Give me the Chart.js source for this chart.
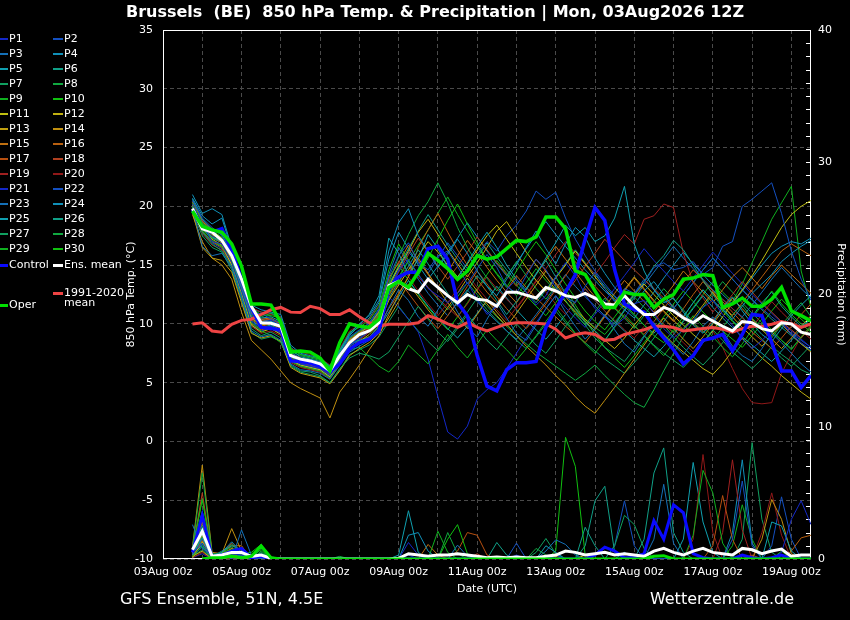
<!DOCTYPE html>
<html><head><meta charset="utf-8">
<script src="https://cdn.jsdelivr.net/npm/chart.js@4.4.0/dist/chart.umd.min.js"></script>
<style>
html,body{margin:0;padding:0;background:#000;}
#wrap{position:relative;width:850px;height:620px;background:#000;overflow:hidden;font-family:"DejaVu Sans",sans-serif;color:#fff;}
#c{position:absolute;left:0;top:0;}
.t{position:absolute;white-space:pre;}
.lg{position:absolute;}
</style></head><body>
<div id="wrap">
<canvas id="c" width="850" height="620"></canvas>
<div id="title" class="t" style="left:0;width:870px;top:2px;text-align:center;font-size:16px;line-height:20px;font-weight:bold;">Brussels  (BE)  850 hPa Temp. &amp; Precipitation | Mon, 03Aug2026 12Z</div>
<div class="t" style="left:120px;top:589px;font-size:16px;line-height:20px;">GFS Ensemble, 51N, 4.5E</div>
<div class="t" style="right:56px;top:589px;font-size:16px;line-height:20px;">Wetterzentrale.de</div>
<div id="legend"></div>
</div>
<script>
// ---- forecast steps (hours after 03Aug2026 00z) ----
const HOURS = [18,24,30,36,42,48,54,60,66,72,78,84,90,96,102,108,114,120,126,132,138,144,150,156,162,168,174,180,186,192,198,204,210,216,222,228,234,240,246,252,258,264,270,276,282,288,294,300,306,312,318,324,330,336,342,348,354,360,366,372,378,384,390,396];
const X_TICK_LABELS = ['03Aug 00z','05Aug 00z','07Aug 00z','09Aug 00z','11Aug 00z','13Aug 00z','15Aug 00z','17Aug 00z','19Aug 00z'];
const MEMBER_NAMES = ['P1','P2','P3','P4','P5','P6','P7','P8','P9','P10','P11','P12','P13','P14','P15','P16','P17','P18','P19','P20','P21','P22','P23','P24','P25','P26','P27','P28','P29','P30'];
const MEMBER_COLORS = ['#1428c8','#1450c0','#1470b8','#1090b8','#10a0b0','#10a088','#10a060','#10a840','#10b020','#10c010','#c0c010','#c0b010','#c0a010','#c09010','#c07010','#b86010','#b85010','#b04020','#a02020','#901818','#1428c8','#1450c0','#1470b8','#1090b8','#10a0b0','#10a088','#10a060','#10a840','#10b020','#10c010'];

// ---- 850 hPa temperature (°C), members ----
const T_P1 = [20.2,18.5,17.0,16.8,15.2,12.8,10.2,9.6,9.8,9.2,7.0,6.6,6.4,6.2,5.6,6.8,8.2,8.8,9.4,10.5,12.8,14.5,15.5,14.2,13.0,12.4,11.8,12.6,13.5,12.1,10.8,11.5,12.9,13.8,12.7,11.6,12.4,14.0,15.2,14.1,12.5,11.3,10.6,9.8,10.5,11.7,12.0,10.9,9.6,8.8,9.5,10.3,11.4,12.0,10.8,9.9,8.7,7.9,8.6,9.4,10.2,9.1,8.4,7.8];
const T_P2 = [20.5,19.0,18.2,17.5,15.9,13.2,10.8,10.9,10.4,10.1,7.6,7.0,6.9,6.7,6.1,7.4,8.9,9.5,10.0,11.2,14.0,15.8,16.9,15.2,14.6,15.8,16.2,14.9,13.4,14.7,15.9,14.8,13.2,12.6,14.1,15.5,14.6,13.1,12.3,11.8,13.2,14.4,13.0,11.9,13.0,12.6,13.5,14.8,15.2,14.6,14.8,15.3,14.2,14.8,16.6,17.0,20.0,20.6,21.3,22.0,19.4,16.2,13.8,12.0];
const T_P3 = [19.8,16.6,15.8,16.0,14.8,12.2,9.4,8.9,9.1,8.6,6.6,6.1,6.0,5.8,5.3,6.5,7.6,8.1,8.6,9.6,11.4,12.9,12.0,10.6,9.8,11.2,12.5,11.0,9.7,8.9,10.4,11.8,10.5,9.2,8.6,9.9,11.3,12.4,11.0,9.8,8.7,9.6,10.8,9.5,8.3,7.6,8.9,10.1,9.0,8.2,7.4,8.5,9.8,10.6,9.4,8.1,7.3,6.8,7.9,9.2,8.4,7.5,6.6,5.9];
const T_P4 = [21.0,19.4,19.8,19.3,16.5,13.9,11.6,11.2,11.0,10.8,8.2,7.5,7.3,7.1,6.4,7.8,9.2,10.0,10.7,12.0,16.2,18.6,19.8,17.5,16.2,14.8,15.9,17.2,16.0,14.5,13.2,12.4,13.8,15.0,16.5,17.9,16.4,15.1,16.8,18.2,17.4,15.6,14.3,13.1,12.2,11.6,12.8,13.6,12.5,11.4,10.6,11.8,12.9,12.0,11.2,10.4,11.5,12.6,13.4,14.2,15.3,16.0,16.6,17.1];
const T_P5 = [20.6,18.9,18.0,17.6,16.0,13.5,11.0,10.5,10.6,10.2,7.8,7.2,7.0,6.8,6.2,7.6,9.0,9.9,10.8,12.4,17.3,16.0,14.2,15.5,17.6,16.4,14.8,13.9,15.2,16.6,17.8,16.5,15.0,13.8,12.9,14.2,15.6,16.9,18.4,17.5,18.2,17.0,17.5,19.0,21.7,16.8,14.5,12.9,11.8,12.2,11.0,9.9,9.2,10.1,11.4,12.3,11.1,10.0,9.1,8.5,9.6,10.7,11.6,12.4];
const T_P6 = [19.9,18.2,17.4,17.0,15.6,13.0,10.6,10.0,10.2,9.8,7.2,6.8,6.6,6.3,5.8,7.0,8.4,8.6,8.8,9.9,12.2,13.6,14.9,16.3,15.1,13.8,12.6,11.5,12.8,14.1,13.2,12.0,10.8,11.9,13.0,14.3,15.4,14.0,12.6,11.3,10.1,9.4,8.6,9.8,11.2,12.5,13.6,14.9,15.8,17.1,16.3,15.0,13.7,12.5,11.4,10.3,9.5,10.6,11.8,12.7,11.5,10.6,9.8,10.4];
const T_P7 = [19.6,17.8,16.8,16.2,14.9,12.4,9.6,9.0,9.3,8.8,6.5,6.0,5.9,5.6,5.0,6.2,7.1,7.5,7.3,7.0,7.6,8.9,10.2,11.5,10.4,9.3,8.5,9.6,10.8,9.7,8.6,7.8,8.9,10.0,9.1,8.2,7.5,8.6,9.8,10.9,9.9,8.8,8.0,7.4,6.8,7.9,9.0,8.2,7.5,6.9,6.3,7.2,8.4,9.5,8.6,7.6,6.9,6.2,7.0,8.1,7.4,6.8,6.1,5.7];
const T_P8 = [20.0,18.0,17.3,17.2,15.9,13.6,11.2,10.6,10.9,10.4,7.7,7.3,7.1,6.9,6.3,7.5,8.8,9.4,9.8,10.9,13.5,15.7,17.6,19.2,20.4,22.0,20.3,18.2,16.5,15.1,13.9,12.8,14.0,15.3,14.1,13.0,12.1,13.2,12.0,10.8,9.9,11.0,12.2,11.3,10.5,9.6,10.7,11.9,13.0,12.1,11.2,10.1,9.4,8.6,9.7,10.8,11.6,10.5,9.6,8.8,9.9,10.9,11.8,10.6];
const T_P9 = [19.7,17.9,17.1,16.6,15.3,12.9,10.1,9.4,9.0,8.4,6.8,6.4,6.2,6.0,5.4,6.5,7.8,8.0,7.2,6.4,5.9,6.8,8.2,7.4,6.6,7.8,9.1,8.0,7.1,8.3,9.5,8.6,7.8,6.9,7.9,9.0,10.2,11.4,10.3,9.2,8.3,7.5,8.6,9.7,10.8,9.9,9.0,8.1,7.3,8.4,9.6,10.7,9.8,8.9,8.0,7.2,8.3,9.5,10.4,9.5,8.6,7.8,8.9,9.8];
const T_P10 = [20.3,18.6,17.9,17.4,16.1,13.8,11.3,10.8,10.7,10.5,7.9,7.4,7.2,7.0,6.4,7.7,9.3,9.7,10.3,11.5,14.6,16.8,15.4,14.1,15.6,17.2,18.8,20.2,18.5,16.9,15.4,14.2,13.1,14.5,15.8,17.0,15.9,14.6,13.4,12.2,11.1,10.2,9.5,10.6,11.7,10.8,9.9,9.0,8.4,9.5,10.6,11.8,12.9,12.0,11.1,10.2,9.4,10.5,11.6,12.8,11.7,10.8,10.0,9.3];
const T_P11 = [19.9,18.1,17.2,16.7,15.0,12.6,9.9,9.3,9.6,9.1,6.9,6.5,6.3,6.1,5.5,6.7,8.0,8.5,9.1,10.0,12.0,13.3,14.6,15.8,17.0,16.1,15.0,14.0,15.1,16.3,17.5,18.4,17.2,16.0,14.8,13.7,12.8,13.9,15.0,16.2,15.1,14.0,13.0,12.1,11.4,12.5,13.4,12.5,11.6,10.7,9.9,9.1,8.4,9.4,10.6,11.8,12.9,14.1,15.4,16.8,18.2,19.3,20.0,20.5];
const T_P12 = [20.1,18.4,17.6,17.1,15.5,13.1,10.5,9.9,10.1,9.7,7.3,6.9,6.7,6.4,5.9,7.1,8.6,9.2,9.8,11.0,13.2,14.8,16.2,17.8,18.9,17.6,16.3,15.1,14.0,15.2,16.5,17.9,18.7,17.4,16.1,15.0,14.0,12.9,11.9,11.0,10.2,9.4,8.6,7.9,8.8,9.9,10.9,10.0,9.1,8.3,7.6,6.9,6.2,5.7,6.6,7.7,8.8,7.9,7.1,6.4,5.6,4.9,4.2,3.6];
const T_P13 = [19.5,16.5,15.6,15.4,14.4,11.8,9.2,8.8,9.0,8.5,6.3,5.8,5.6,5.4,4.9,6.0,7.3,7.9,8.4,9.2,10.5,11.9,13.4,12.3,11.2,10.2,11.4,12.6,13.9,12.8,11.7,10.7,9.8,10.9,12.1,13.3,14.5,13.4,12.3,11.3,10.4,9.6,10.7,11.8,12.9,14.0,13.0,12.0,11.1,10.3,9.5,10.5,11.6,12.7,11.6,10.6,9.7,8.9,8.1,9.0,10.0,9.1,8.3,7.6];
const T_P14 = [19.3,17.0,15.6,15.0,13.8,11.0,8.6,7.8,7.0,6.0,5.0,4.5,4.1,3.7,2.0,4.2,5.3,6.5,7.8,9.0,10.8,12.5,14.0,15.6,14.3,13.0,11.8,10.7,9.6,10.8,12.0,11.0,10.0,9.0,8.1,7.3,6.5,5.6,4.8,3.8,3.0,2.4,3.5,4.6,5.8,7.0,8.2,9.4,10.5,9.6,8.7,7.9,8.9,10.0,11.1,12.2,11.3,10.4,9.5,8.7,7.9,8.8,9.8,10.7];
const T_P15 = [20.4,18.7,18.0,17.3,15.7,13.3,10.9,10.4,10.5,10.0,7.5,7.1,6.9,6.6,6.0,7.3,8.7,9.3,9.9,11.1,13.9,15.2,16.7,15.4,14.2,13.1,14.4,15.8,17.1,16.0,14.8,13.7,12.7,11.8,13.0,14.2,15.4,16.6,15.5,14.4,13.3,12.3,11.4,12.6,13.7,12.8,11.9,11.0,12.2,13.3,14.5,13.6,12.7,11.8,12.9,14.0,14.8,13.9,13.0,14.1,15.0,14.2,13.4,12.6];
const T_P16 = [19.8,17.9,17.0,16.5,15.1,12.7,10.0,9.5,9.7,9.3,6.9,6.4,6.2,6.0,5.4,6.6,7.9,8.4,8.9,9.8,11.3,12.6,14.0,16.5,18.0,19.4,17.8,16.3,15.0,13.8,12.7,11.8,12.9,14.1,13.1,12.2,11.4,10.6,9.8,9.1,8.4,9.5,10.6,11.7,12.8,13.9,12.9,11.9,11.0,10.2,11.3,12.5,13.6,12.6,11.6,10.7,11.8,12.9,14.0,15.1,16.2,16.8,16.3,15.8];
const T_P17 = [20.0,18.3,17.4,16.9,15.4,13.0,10.4,9.8,10.0,9.6,7.1,6.7,6.5,6.2,5.7,6.9,8.3,8.9,9.6,10.7,12.4,13.8,12.6,11.5,10.5,9.6,10.7,11.9,13.2,14.5,13.4,12.3,11.3,10.4,9.6,10.6,11.7,12.9,14.1,15.3,14.2,13.2,12.3,11.4,10.6,9.8,9.1,10.2,11.3,12.4,13.5,14.6,13.7,12.8,11.9,11.0,10.1,9.3,8.6,7.9,8.8,9.8,10.8,11.7];
const T_P18 = [20.2,18.6,17.8,17.3,15.8,13.4,10.9,10.3,10.4,10.0,7.4,6.9,6.8,6.5,5.9,7.1,8.5,9.1,9.7,10.8,12.9,14.4,15.9,17.3,16.1,14.9,13.8,14.9,16.1,17.4,16.3,15.2,14.2,13.2,14.3,15.5,14.5,13.5,12.6,13.7,14.9,16.0,17.2,16.3,15.4,14.6,13.8,13.0,12.2,11.4,10.7,10.0,9.3,10.3,11.4,12.5,13.6,12.7,11.8,11.0,10.2,9.5,8.8,9.7];
const T_P19 = [19.6,17.7,16.7,16.3,14.9,12.5,9.8,9.2,9.4,9.0,6.7,6.3,6.1,5.9,5.3,6.5,7.9,8.6,9.3,10.3,12.1,13.5,14.9,14.0,13.1,12.2,11.4,10.6,11.7,12.9,14.0,13.0,12.1,11.3,12.4,13.6,14.7,15.9,17.0,16.0,15.1,14.2,15.3,16.5,17.6,16.8,18.9,19.2,20.2,19.9,16.0,13.5,12.2,11.0,12.1,11.3,10.5,9.7,10.8,11.9,11.0,10.2,9.4,8.7];
const T_P20 = [20.3,18.8,18.1,17.6,16.2,13.7,11.4,11.0,10.8,10.6,7.9,7.6,7.4,7.1,6.5,7.9,9.4,9.9,10.4,11.6,13.7,15.3,14.0,12.8,11.7,10.7,11.8,13.0,14.2,13.1,12.1,11.2,10.3,11.4,12.5,13.7,12.7,11.7,10.8,11.9,13.0,12.0,11.1,10.3,9.5,8.8,9.8,10.9,10.0,9.2,8.4,7.6,8.5,9.4,8.0,6.2,4.5,3.3,3.2,3.3,5.8,7.4,8.9,9.9];
const T_P21 = [20.1,18.4,17.5,17.0,15.6,13.1,10.7,10.1,10.3,9.9,7.4,7.0,6.8,6.5,5.9,7.2,8.6,9.2,9.8,10.8,12.3,11.4,10.4,9.3,7.0,3.8,0.8,0.2,1.3,3.6,4.4,5.0,6.2,7.5,8.8,10.1,11.3,12.4,11.4,10.5,9.7,10.8,11.9,13.0,14.1,15.2,16.4,15.4,14.5,13.6,12.8,13.9,15.0,16.1,15.2,14.3,13.4,12.5,11.7,10.9,10.1,9.4,8.7,8.0];
const T_P22 = [19.7,17.8,16.9,16.4,15.0,12.5,9.9,9.4,9.6,9.2,6.9,6.5,6.3,6.1,5.5,6.7,8.1,8.7,9.3,10.4,13.0,14.6,16.1,15.2,14.3,15.6,16.9,15.8,14.7,15.9,17.0,16.2,17.5,18.4,19.6,21.3,20.6,21.2,19.0,17.2,15.8,14.5,13.4,12.4,11.5,12.6,13.8,12.9,12.0,11.3,12.4,13.5,14.6,15.6,14.7,13.8,12.9,12.1,11.3,10.6,9.9,9.2,8.6,8.0];
const T_P23 = [20.4,18.8,17.9,17.3,15.8,13.3,10.9,10.4,10.2,10.0,7.6,7.1,6.9,6.6,6.1,7.4,8.8,9.4,10.1,11.3,14.2,16.5,15.1,13.8,12.6,11.6,10.7,11.8,12.9,11.9,11.0,10.2,9.4,8.7,9.7,10.8,11.9,13.0,14.2,13.2,12.3,11.5,10.7,10.0,11.1,12.2,13.3,14.4,15.5,16.6,15.6,14.7,13.8,12.9,12.1,11.3,10.6,11.6,12.7,13.8,14.8,13.9,13.0,12.2];
const T_P24 = [20.7,19.2,18.5,19.0,16.3,13.7,11.3,11.0,10.9,10.6,8.0,7.4,7.2,7.0,6.3,7.7,9.1,9.8,10.5,11.8,15.5,17.8,16.4,15.0,13.8,14.9,16.1,17.3,18.6,17.4,16.2,15.1,14.1,15.2,16.4,17.6,18.7,17.6,16.6,15.6,14.6,13.7,12.8,12.0,11.2,10.5,11.6,12.7,13.9,15.0,16.1,15.1,14.2,13.3,12.5,11.7,12.8,13.9,15.0,16.0,16.6,17.0,16.8,17.3];
const T_P25 = [19.9,18.1,17.3,16.9,15.4,12.9,10.3,9.7,9.9,9.5,7.0,6.6,6.4,6.2,5.6,6.8,8.2,8.6,8.9,9.7,11.0,12.3,13.7,12.6,11.5,10.5,9.6,8.8,9.8,10.9,12.0,13.2,12.2,11.2,10.3,9.5,8.7,9.7,10.8,11.9,13.0,12.0,11.1,10.2,9.4,8.6,7.9,7.2,8.1,9.1,10.2,11.3,12.4,11.4,10.5,9.7,8.9,8.2,7.5,6.8,7.7,8.6,9.6,10.5];
const T_P26 = [20.2,18.5,17.7,17.2,15.7,13.2,10.7,10.2,10.4,10.1,7.5,7.0,6.8,6.6,6.0,7.2,8.6,9.2,9.9,11.0,13.4,14.9,16.4,17.9,19.3,18.0,16.7,15.5,14.4,15.6,16.9,15.7,14.6,13.6,12.7,11.8,12.9,14.0,15.1,16.3,15.2,14.2,13.2,12.3,11.5,10.7,9.9,9.2,10.2,11.3,12.4,13.5,14.6,15.6,14.7,13.8,12.9,12.0,11.2,10.4,9.7,9.0,8.3,7.7];
const T_P27 = [19.5,17.5,16.5,16.1,14.6,12.0,9.3,8.7,8.9,8.5,6.4,5.9,5.7,5.5,5.0,6.1,7.4,7.8,8.2,8.9,10.2,11.5,10.4,9.4,8.5,7.7,8.7,9.8,11.0,12.2,11.2,10.3,9.4,8.6,7.9,8.9,10.0,11.1,10.1,9.2,8.4,7.7,7.0,6.4,5.8,6.7,7.7,8.8,9.9,8.9,8.0,7.2,6.5,7.4,8.4,9.5,10.6,9.6,8.7,7.9,7.1,6.4,7.3,8.2];
const T_P28 = [20.0,18.2,17.4,16.9,15.5,13.0,10.5,9.9,10.1,9.7,7.2,6.7,6.5,6.3,5.7,7.0,8.4,9.0,9.6,10.6,12.6,14.0,15.4,14.2,13.1,12.1,11.2,12.3,13.5,12.5,11.5,10.6,9.8,9.0,8.3,7.6,7.0,6.4,5.8,5.2,5.8,6.5,5.6,4.8,4.0,3.3,2.9,4.4,6.0,7.5,8.9,10.2,11.4,12.5,13.6,12.7,11.8,10.9,10.1,9.3,8.6,7.9,8.8,9.7];
const T_P29 = [19.8,17.9,17.0,16.6,15.2,12.7,10.1,9.6,9.8,9.4,7.0,6.5,6.3,6.1,5.5,6.8,8.2,8.8,9.4,10.4,12.5,13.9,15.3,16.7,18.0,19.4,20.8,19.3,17.9,16.6,15.4,14.3,13.3,12.4,13.5,14.7,13.7,12.8,11.9,11.1,10.4,9.7,9.1,10.1,11.2,12.3,11.4,10.6,9.9,9.3,10.3,11.4,12.5,13.6,12.7,11.9,13.4,15.2,17.0,18.9,20.3,21.7,14.5,11.4];
const T_P30 = [20.1,18.4,17.6,17.1,15.6,13.2,10.8,10.2,10.4,9.9,7.4,7.0,6.8,6.5,5.9,7.2,8.6,9.2,9.8,10.9,13.1,15.0,13.7,12.5,11.4,10.4,9.5,10.6,11.8,13.0,14.2,15.4,14.3,13.3,12.4,11.5,10.7,11.8,13.0,11.6,10.3,9.1,8.0,7.1,6.3,7.3,8.4,9.5,10.6,11.7,12.8,11.9,11.0,10.2,9.4,8.7,8.0,9.0,10.0,11.1,12.1,11.2,10.4,9.7];

// ---- 850 hPa temperature (°C), highlighted series ----
const T_CONTROL = [19.7,18.3,17.8,18.1,16.3,13.8,11.4,9.7,9.6,9.5,6.85,6.8,6.65,6.4,5.9,6.6,7.85,8.4,8.7,9.4,13.0,14.0,14.4,14.4,16.4,16.6,15.5,11.8,10.7,7.3,4.7,4.3,6.1,6.7,6.7,6.8,9.7,11.25,12.7,14.2,17.2,19.9,18.8,14.6,11.7,11.2,11.0,9.8,8.8,7.8,6.6,7.3,8.6,8.8,9.1,7.7,9.1,10.8,10.7,8.4,6.0,6.0,4.6,5.6];
const T_MEAN = [19.8,18.1,17.8,17.1,15.8,13.8,11.5,10.1,10.05,9.8,7.3,7.0,6.85,6.6,6.0,7.3,8.4,9.1,9.4,10.1,13.25,13.6,13.0,12.7,13.8,13.1,12.4,11.8,12.5,12.1,12.0,11.5,12.7,12.7,12.45,12.2,13.1,12.8,12.4,12.25,12.6,12.2,11.7,11.6,12.4,11.5,10.8,10.8,11.4,11.1,10.5,10.1,10.7,10.25,9.8,9.4,10.2,10.1,9.6,9.4,10.1,10.0,9.3,9.1];
const T_OPER = [19.6,18.3,18.0,17.8,16.8,14.9,11.7,11.7,11.6,10.1,7.6,7.7,7.6,7.1,6.0,8.4,10.0,9.8,9.7,10.4,13.1,13.6,13.1,14.4,16.0,15.4,14.7,13.8,14.5,15.8,15.5,15.7,16.4,17.1,17.0,17.4,19.1,19.1,18.1,14.5,14.2,12.8,11.4,11.4,12.7,12.5,12.5,11.4,12.1,12.5,13.8,13.9,14.2,14.1,11.4,11.7,12.2,11.5,11.5,12.1,13.1,11.1,10.7,10.25];
const T_CLIMATE = [10.0,10.1,9.4,9.3,9.97,10.3,10.4,10.8,11.2,11.4,11.0,10.96,11.5,11.3,10.8,10.8,11.2,10.6,10.1,9.8,9.97,9.97,9.97,10.1,10.7,10.4,10.0,9.7,10.1,9.7,9.4,9.7,10.0,10.1,10.1,10.05,10.0,9.55,8.8,9.1,9.25,9.1,8.6,8.7,9.1,9.3,9.5,9.8,9.8,9.7,9.4,9.5,9.6,9.7,9.55,9.3,9.6,9.8,9.8,9.97,10.2,10.0,9.7,10.0];

// ---- precipitation (mm per 6 h), members ----
const R_P1 = [0.4,1.2,0.1,0.3,0.4,0.3,0,0.2,0,0,0,0,0,0,0,0,0,0,0,0,0,0,1.25,0.3,0,0,0,0,0,0,0,0,0,0,0,0,0,0.3,0,0,0,0,0,0,0,0,0,0,0,0,0,0,0,0,0,0,0,0,0,0,0.5,3.0,4.4,2.6];
const R_P2 = [0.6,2.2,0,0.4,0.5,0.6,0,0.1,0,0,0,0,0,0,0,0,0,0,0,0,0,0,0,0,0,0,0,0,0,0,0,0,0,1.2,0,0,0,0,0,0,0,0,0,0,0,0,0,0,0,0,0,0,0,0,0,1.5,5.9,1.0,0,0,0,0,0,0];
const R_P3 = [2.6,0.8,0.3,0.4,0,2.2,0.3,0,0,0,0,0,0,0,0,0,0,0,0,0,0,0,0,0,0,0,0,1.05,0.2,0,0,0,0,0,0,0,0,0,0,0,0,0,0,0,0,0,0,1.5,5.65,1.2,0,0,0,0,0,0,0,0,0,0,0,0,0,0];
const R_P4 = [0.3,1.6,0,0.5,1.3,0.5,0,0,0,0,0,0,0,0,0,0,0,0,0,0,0,0,1.8,2.0,0.6,0,0,0,0,0,0,0,0,0,0,0,0,0,0,0,0,0,0,0,0.5,0,0,0,0,0,0,0,0,0,0,0,0,0,0,0,0,0,0,0];
const R_P5 = [0.5,2.4,0,0.3,0.6,0.4,0,0,0,0,0,0,0,0,0,0,0,0,0,0,0,0.3,3.65,0.5,0,0,0,0,0,0,0,0,0,0,0,0,0,0,0,0,0,0,0,0,0,0,0,0,0,0,0,0,0,0,0,0,0,0,0,2.8,2.5,0.6,0,0];
const R_P6 = [0.7,3.6,0.2,0.6,1.0,0.7,0,0.3,0,0,0,0,0,0,0,0,0,0,0,0,0,0,0,0,0,0,0,0,0,0,0,0,0,0,0,0,0,0,0,0,2.4,1.0,0,0,0,0,1.5,6.5,8.4,2.0,0.5,0,0,0,0,0,0,0,0,0,0,0,0,0];
const R_P7 = [0.3,1.9,0,0.2,0.4,0.3,0,0.5,0,0,0,0,0,0,0,0,0,0,0,0,0,0,0,0,0,0,0,0,0,0,0,0,0,0,0,0,0,0,0,0,0,0,0,1.0,3.3,2.6,0.8,0,0,0,0,0,0,0,0,0,0,0,0,0,0,0,0,0];
const R_P8 = [0.8,6.5,0.4,0.4,1.1,0.5,0,0.8,0,0,0,0,0,0,0,0.2,0,0,0,0,0,0,0,0,0,0,0,0,0,0,0,0,0,0,0,0.8,0.3,0,0,0,0,0,0,0,0,0,0,0,0,0,0,0,0,0,0,0,0,0,0,0,0,0,0,0];
const R_P9 = [0.2,1.0,0,0.3,0.3,0,0,1.0,0,0,0,0,0,0,0,0,0,0,0,0,0,0,0,0,0,2.1,0.5,0,0,0,0,0,0,0,0,0,0,0,0,0,0,0,0,0,0,0,0,0,0,0,0,1.8,6.7,5.0,1.2,0,0,0,0,0,0,0,0,0];
const R_P10 = [0.6,4.5,0.2,0.5,0.7,0.4,0.5,1.1,0,0,0,0,0,0,0,0,0,0,0,0,0,0,0,0,0,0,1.5,2.6,0.4,0,0,0,0,0,0,0,0,0,0,0,0,0,0,0,0,0,0,0,0,0,0,0,0,0,0,0,0,0,0,0,0,0,0,0];
const R_P11 = [0.1,1.3,0,0.2,0.3,0.1,0,0,0,0,0,0,0,0,0,0,0,0,0,0,0,0,0,0,0,0,0,0,0,0,0,0,0,0,0,0,0,0,0,0,0.3,0,0,0,0,0,0,0,0,0,0,0,0,0,0,0,0,0,0,0,0,0,0,0];
const R_P12 = [0.2,0.6,0,0.1,0.2,0,0,0,0,0,0,0,0,0,0,0,0,0,0,0,0,0,0,0,0,0,0,0,0,0,0,0,0,0,0,0,0,0,0,0,0,0,0,0,0,0,0,0,0,0,0,0,0,0,0,0,0,0,0,0,0,0,0,0];
const R_P13 = [0.4,1.8,0,0.3,0.8,0.3,0,0,0,0,0,0,0,0,0,0,0,0,0,0,0,0,0,0,0,0,0,0,0,0,0,0,0,0,0,0,0,0.2,0,0,0,0,0,0,0,0,0,0,0,0,0,0,0,0,0,0,0,0,0,0,0,0,0,0];
const R_P14 = [0.9,7.1,0.5,0.4,2.3,0.6,0,0,0,0,0,0,0,0,0,0,0,0,0,0,0,0,0,0,0,0,0,0,0,0,0,0,0,0,0,0,0,0,0,0,0,0,0,0,0,0,0,0,0,0,0,0,0,0,0,0,0,0,1.5,4.5,3.0,0.4,0,0];
const R_P15 = [0.5,2.8,0,0.5,1.0,1.0,0,0,0,0,0,0,0,0,0,0,0,0,0,0,0,0,0,0,1.1,0.3,0,0,0,0,0,0,0,0,0,0,0,0,0,0,0,0,0,0,0,0,0,0,0,0,0,0,0,0,0,0,0,0,0,0,0,0,0,0];
const R_P16 = [0.2,1.4,0,0.3,0.5,0,0,0,0,0,0,0,0,0,0,0,0,0,0,0,0,0,0,0,0,0,0,0,0,0,0,0,0,0,0,0,0,0,0,0,0,0,0,0,0,0,0,0,0,0,0,0,0,0,0,0,0,0,0,0,0,0.6,1.6,1.8];
const R_P17 = [0.3,3.0,0,0.4,0.8,0.4,0,0,0,0,0,0,0,0,0,0,0,0,0,0,0,0,0,0,0,0,0,0.6,2.0,1.8,0.3,0,0,0,0,0,0,0,0,0,0,0,0,0,0,0,0,0,0,0,0,0,0,1.0,4.8,1.5,0,0,0,0,0,0,0,0];
const R_P18 = [0.6,5.0,0.3,0.4,1.2,0.3,0,0,0,0,0,0,0,0,0,0,0,0,0,0,0,0,0,0,0,0,0,0,0,0.4,0,0,0,0,0,0,0,0,0,0,0,0,0,0,0,0,0,0,0,0,0,0,0,0,0,0,0,0.3,0,0,0,0,0,0];
const R_P19 = [0.1,0.5,0,0.1,0,0,0,0,0,0,0,0,0,0,0,0,0,0,0,0,0,0,0,0,0,0,0,0,0,0,0,0,0,0,0,0,0,0,0,0,0,0,0,0,0,0,0,0,0,0,0,0,0,0,2.0,7.5,2.2,0,0,0,0,0,0,0];
const R_P20 = [0.4,2.0,0,0.3,0.4,0,0,0,0,0,0,0,0,0,0,0,0,0,0,0,0,0,0,0,0,0,0,0,0,0,0,0,0,0,0,0,0,0,0,0,0,0,0,0,0,0,0,0,0,0,0,1.5,7.9,2.0,0,0,0,0,2.0,5.0,1.8,0,0,0];
const R_P21 = [0.1,0.4,0,0.2,0,0,0,0,0,0,0,0,0,0,0,0,0,0,0,0,0,0,0.3,0,0,0,0,0,0,0,0,0,0,0.3,0,0,0,0,0,0,0,0,0,0,0,0,0,0,0,0,0,0,0,0,0,0,0,0,0,0,0,0,0,0];
const R_P22 = [0.3,1.5,0,0.3,0.4,0.5,0,0,0,0,0,0,0,0,0,0,0,0,0,0,0,0,0,0,0,0,0,0,0,0,0,0,0,0,0,0,0,0,0,0,0,0,0,1.0,4.4,1.0,0,0,0,0,0,0,0,0,0,0,0,0,0,1.0,4.7,1.5,0,0];
const R_P23 = [0.2,0.9,0,0.2,0,0.4,0,0,0,0,0,0,0,0,0,0,0,0,0,0,0,0,0,0,0,0,0,0,0,0,0,0,0,0,0,0,0.6,1.45,1.1,0.3,0,0,0,0,0,0,0,0,0,0,0,0,0,0,0,0,0,0,0,0,0,0,0,0];
const R_P24 = [0.4,2.1,0,0.3,0.5,0.2,0,0,0,0,0,0,0,0,0,0,0,0,0,0,0,0,0,0,0,0,0,0,0,0,0,0,0,0,0,0,0,0,0,0,0,0,0,0,0,0,0,0,0,0,0,0,0,0,0,2.0,7.5,1.2,0,0,0,0,0,0];
const R_P25 = [0.3,1.1,0,0.2,0.3,0.2,0,0,0,0,0,0,0,0,0,0,0,0,0,0,0,0,0,0,0,0,0,0,0,0,0,0,0,0,0,0,1.0,0.5,0,0,0,0,0,0,0,0,0,0,0,0,1.5,7.3,2.8,0.5,0,0,0,0,0,0,0,0,0,0];
const R_P26 = [0.5,2.6,0,0.4,0.6,0.3,0,0.4,0,0,0,0,0,0,0,0,0,0,0,0,0,0,0,0,0,0,0,0,0,0,0,1.25,0.3,0,0,0,0,0,0,0,1.0,4.4,5.5,0.5,0,0,0,0,0,0,0,0,0,0,0,0,0,0,0,0,0,0,0,0];
const R_P27 = [0.2,0.7,0,0.2,0,0,0,0.2,0,0,0,0,0,0,0,0,0,0,0,0,0,0,0,0,0,0,0,0,0,0,0,0,0,0,0,0.5,1.55,0.4,0,0,0,0,0,0,0,0,0,0,0,0,0,0,0,0,0,0,1.5,8.8,3.0,0.5,0,0,0,0];
const R_P28 = [0.7,4.6,0.2,0.5,0.9,0.4,0,0.6,0,0,0,0,0,0,0,0,0,0,0,0,0,0,0,0,0,0,2.0,0.4,0,0,0,0,0,0,0,0,0,0,0,0,0,0,0,0,0,0,0,0,0,0,0,0,0,0,0,0,0,0,0,0,0,0,0,0];
const R_P29 = [0.3,1.7,0,0.3,0.4,0,0,0.3,0,0,0,0,0,0,0,0,0,0,0,0,0,0,0,0,0,0,0,0,0,0,0,0,0,0,0,0,0,0,0,0,0,0,0,0,0,0,0,0,0,0,0,0,0,0,0,1.0,4.1,1.5,0,0,0.6,0,0,0];
const R_P30 = [0.4,1.2,0,0.3,0.3,0,0.2,0.7,0,0,0,0,0,0,0,0,0,0,0,0,0,0,0,0,0,0,0,0,0,0,0,0,0,0,0,0,0,0.6,9.2,7.0,0.3,0,0,0,0,0,0,0,0,0,0,0,0,0,0,0,0,0,0,0,0,0,0,0];

// ---- precipitation (mm per 6 h), highlighted series ----
const R_CONTROL = [0.5,3.3,0.1,0.3,0.6,0.8,0.1,0.2,0,0,0,0,0,0,0,0,0,0,0,0,0,0,0,0,0,0,0,0,0,0,0,0,0,0,0,0,0,0,0,0,0,0.3,0.9,0.6,0.1,0.1,0.4,2.9,1.5,4.1,3.5,0.4,0.1,0,0,0,0.3,0.1,0,0.1,0.3,0,0,0];
const R_MEAN = [0.7,2.1,0.2,0.3,0.5,0.5,0.2,0.3,0.05,0,0,0,0,0,0,0,0,0,0,0,0,0.05,0.4,0.3,0.2,0.3,0.3,0.4,0.3,0.2,0.1,0.15,0.1,0.15,0.1,0.1,0.2,0.3,0.6,0.5,0.3,0.4,0.5,0.3,0.4,0.3,0.2,0.6,0.8,0.5,0.3,0.6,0.8,0.5,0.4,0.3,0.8,0.7,0.4,0.6,0.75,0.2,0.3,0.3];
const R_OPER = [null,0,0.1,0.1,0.2,0.1,0.2,1.0,0.1,0,0,0,0,0,0,0,0,0,0,0,0,0,0,0,0,0,0,0,0,0,0,0,0,0,0,0,0,0,0,0,0,0,0,0,0,0,0,0.2,0.25,0,0,0,0,0,0,0,0,0,0,0,0,0,0,0];

const MEMBERS_T = [T_P1,T_P2,T_P3,T_P4,T_P5,T_P6,T_P7,T_P8,T_P9,T_P10,T_P11,T_P12,T_P13,T_P14,T_P15,T_P16,T_P17,T_P18,T_P19,T_P20,T_P21,T_P22,T_P23,T_P24,T_P25,T_P26,T_P27,T_P28,T_P29,T_P30];
const MEMBERS_R = [R_P1,R_P2,R_P3,R_P4,R_P5,R_P6,R_P7,R_P8,R_P9,R_P10,R_P11,R_P12,R_P13,R_P14,R_P15,R_P16,R_P17,R_P18,R_P19,R_P20,R_P21,R_P22,R_P23,R_P24,R_P25,R_P26,R_P27,R_P28,R_P29,R_P30];

const C_CONTROL = '#0a0aff', C_MEAN = '#ffffff', C_OPER = '#00e000', C_CLIM = '#ee4444';

const pts = arr => HOURS.map((h, i) => ({x: h, y: arr[i]}));
const datasets = [];
function line(label, arr, color, width, axis, order) {
  datasets.push({label, data: pts(arr), borderColor: color, backgroundColor: color, borderWidth: width,
    yAxisID: axis, order, pointRadius: 0, tension: 0, fill: false, spanGaps: false});
}
line('Oper', T_OPER, C_OPER, 3.5, 'y', 1);
line('Ens. mean', T_MEAN, C_MEAN, 3, 'y', 2);
line('Control', T_CONTROL, C_CONTROL, 3.5, 'y', 3);
line('1991-2020 mean', T_CLIMATE, C_CLIM, 3, 'y', 4);
line('Oper precip', R_OPER, C_OPER, 3, 'y1', 1);
line('Ens. mean precip', R_MEAN, C_MEAN, 3, 'y1', 2);
line('Control precip', R_CONTROL, C_CONTROL, 3, 'y1', 3);
MEMBERS_T.forEach((a, k) => line(MEMBER_NAMES[k], a, MEMBER_COLORS[k], 1, 'y', 10));
MEMBERS_R.forEach((a, k) => line(MEMBER_NAMES[k] + ' precip', a, MEMBER_COLORS[k], 1, 'y1', 9));

Chart.defaults.font.family = "'DejaVu Sans', sans-serif";
Chart.defaults.font.size = 11;
Chart.defaults.color = '#ffffff';

const GRID = '#4a4a4a';
const framePlugin = {
  id: 'frame',
  beforeDatasetsDraw(chart) {
    const {ctx, chartArea: a, scales} = chart;
    ctx.save();
    ctx.strokeStyle = '#ffffff';
    ctx.lineWidth = 1;
    ctx.strokeRect(a.left + 0.5, a.top + 0.5, a.right - a.left - 1, a.bottom - a.top - 1);
    const y1 = scales.y1;
    ctx.beginPath();
    for (let v = 1; v < 40; v++) {
      const py = Math.round(y1.getPixelForValue(v)) + 0.5;
      ctx.moveTo(a.right - 5, py); ctx.lineTo(a.right, py);
    }
    ctx.stroke();
    ctx.restore();
  }
};

new Chart(document.getElementById('c'), {
  type: 'line',
  data: {datasets},
  plugins: [framePlugin],
  options: {
    responsive: false, animation: false, devicePixelRatio: 1,
    layout: {padding: {left: 125, right: 0, top: 30, bottom: 20}},
    plugins: {legend: {display: false}, title: {display: false}, tooltip: {enabled: false}},
    elements: {point: {radius: 0}, line: {tension: 0}},
    scales: {
      x: {
        type: 'linear', min: 0, max: 396,
        afterFit: s => { s.height = 41; },
        border: {display: false, dash: [4, 3]},
        grid: {color: GRID, drawTicks: false},
        ticks: {stepSize: 24, includeBounds: false, autoSkip: false, maxRotation: 0, minRotation: 0, padding: 7, color: '#ffffff',
          callback: v => (v % 48 === 0 ? X_TICK_LABELS[v / 48] : '')},
        title: {display: true, text: 'Date (UTC)', color: '#ffffff', font: {size: 11}, padding: {top: 0, bottom: 4}}
      },
      y: {
        position: 'left', min: -10, max: 35,
        afterFit: s => { s.width = 38; },
        border: {display: false, dash: [4, 3]},
        grid: {color: GRID, drawTicks: false},
        ticks: {stepSize: 5, padding: 10, color: '#ffffff'},
        title: {display: true, text: '850 hPa Temp. (°C)', color: '#ffffff', font: {size: 11}, padding: {top: 0, bottom: 0}}
      },
      y1: {
        position: 'right', min: 0, max: 40,
        afterFit: s => { s.width = 39; },
        border: {display: false},
        grid: {drawOnChartArea: false, drawTicks: false},
        ticks: {stepSize: 10, padding: 7, color: '#ffffff'},
        title: {display: true, text: 'Precipitation (mm)', color: '#ffffff', font: {size: 11}, padding: {top: 3, bottom: 0}}
      }
    }
  }
});

// ---- HTML legend ----
const lg = document.getElementById('legend');
function item(col, cy, color, text, thick) {
  const ln = document.createElement('div');
  ln.className = 'lg';
  ln.style.cssText = `left:${col ? 53 : 0}px;top:${cy - (thick ? 1.5 : 1)}px;width:${col ? 10 : 8}px;height:${thick ? 3 : 2}px;background:${color};`;
  lg.appendChild(ln);
  const tx = document.createElement('div');
  tx.className = 't';
  tx.style.cssText = `left:${col ? 64 : 9}px;top:${cy - 7}px;font-size:11px;line-height:14px;`;
  tx.textContent = text;
  lg.appendChild(tx);
  return tx;
}
MEMBER_NAMES.forEach((n, k) => item(k % 2, 39 + 15 * Math.floor(k / 2), MEMBER_COLORS[k], n, false));
item(0, 265, C_CONTROL, 'Control', true);
item(1, 265, C_MEAN, 'Ens. mean', true);
item(0, 305, C_OPER, 'Oper', true);
const cl = item(1, 293, C_CLIM, '1991-2020\nmean', true);
cl.style.lineHeight = '10px'; cl.style.top = '288px';
</script>
</body></html>
